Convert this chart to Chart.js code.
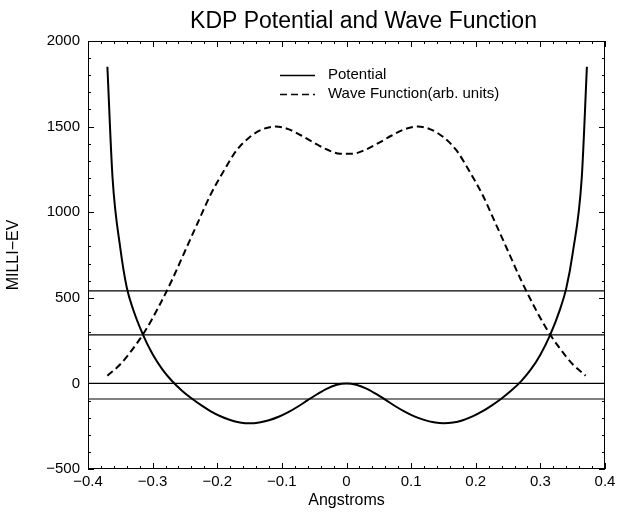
<!DOCTYPE html>
<html>
<head>
<meta charset="utf-8">
<script src="https://cdn.jsdelivr.net/npm/chart.js@4"></script>
<style>
  html, body { margin: 0; padding: 0; background: #fff; }
  #wrap { width: 629px; height: 513px; }
</style>
</head>
<body>
<div id="wrap"><canvas id="kdpChart"></canvas></div>
<script>
// Potential curve (milli-eV vs Angstroms)
const potX = [-0.37, -0.362, -0.35, -0.34, -0.33, -0.315, -0.30, -0.285, -0.27, -0.255, -0.24, -0.225, -0.21, -0.195, -0.18, -0.165, -0.15,
              -0.135, -0.12, -0.105, -0.09, -0.075, -0.06, -0.045, -0.03, -0.015, 0,
              0.015, 0.03, 0.045, 0.06, 0.075, 0.09, 0.105, 0.12, 0.135, 0.15, 0.165, 0.18, 0.195, 0.21, 0.225, 0.24, 0.255,
              0.27, 0.285, 0.30, 0.315, 0.33, 0.34, 0.35, 0.364, 0.372];
const potY = [1850, 1200, 790, 560, 430, 285, 170, 82, 14, -41, -87, -127, -163, -192, -214, -228, -233,
              -228, -215, -195, -168, -135, -98, -62, -30, -8, 0,
              -8, -29, -60, -95, -132, -165, -193, -213, -227, -233, -229, -215, -193, -164, -128, -88, -42,
              12, 80, 168, 282, 428, 555, 760, 1200, 1850];

// Wave function (arb. units)
const waveX = [-0.37, -0.35, -0.33, -0.31, -0.29, -0.27, -0.25, -0.23, -0.21, -0.19, -0.17, -0.15, -0.13, -0.11, -0.09, -0.07, -0.05, -0.03, -0.01,
               0.01, 0.03, 0.05, 0.07, 0.09, 0.11, 0.13, 0.15, 0.17, 0.19, 0.21, 0.23, 0.25, 0.27, 0.29, 0.31, 0.33, 0.35, 0.37];
const waveY = [45, 112, 205, 316, 452, 604, 772, 940, 1105, 1240, 1362, 1438, 1484, 1500, 1485, 1448, 1405, 1366, 1342,
               1342, 1366, 1405, 1448, 1485, 1500, 1484, 1438, 1362, 1240, 1105, 940, 772, 604, 452, 316, 205, 112, 45];

// Energy levels (horizontal lines)
const levels = [541, 284, 0, -91];

const xTickLabels = ['\u22120.4', '\u22120.3', '\u22120.2', '\u22120.1', '0', '0.1', '0.2', '0.3', '0.4'];
const yTickLabels = ['\u2212500', '0', '500', '1000', '1500', '2000'];

const FONT = "'Liberation Sans', Arial, Helvetica, sans-serif";

function pts(xs, ys) {
    return xs.map((x, i) => ({ x: x, y: ys[i] }));
}

const datasets = [
    {
        label: 'Potential',
        data: pts(potX, potY),
        borderColor: '#000',
        borderWidth: 2,
        pointRadius: 0,
        cubicInterpolationMode: 'monotone',
        showLine: true
    },
    {
        label: 'Wave Function(arb. units)',
        data: pts(waveX, waveY),
        borderColor: '#000',
        borderWidth: 2,
        borderDash: [7, 4],
        pointRadius: 0,
        cubicInterpolationMode: 'monotone',
        showLine: true
    }
];
levels.forEach(v => {
    datasets.push({
        label: 'level',
        data: [{ x: -0.4, y: v }, { x: 0.4, y: v }],
        borderColor: '#000',
        borderWidth: 1.2,
        pointRadius: 0,
        showLine: true
    });
});

// frame with inward major/minor ticks on all four sides
const frameTicks = {
    id: 'frameTicks',
    afterDatasetsDraw(chart) {
        const { ctx, chartArea: a, scales: { x, y } } = chart;
        ctx.save();
        ctx.strokeStyle = '#000';
        ctx.lineWidth = 1;
        ctx.strokeRect(a.left + 0.5, a.top + 0.5, a.right - a.left - 1, a.bottom - a.top - 1);
        ctx.beginPath();
        for (let i = 0; i <= 40; i++) {
            const px = Math.round(x.getPixelForValue(-0.4 + i * 0.02)) + 0.5;
            const len = i % 5 === 0 ? 6 : 3;
            ctx.moveTo(px, a.bottom); ctx.lineTo(px, a.bottom - len);
            ctx.moveTo(px, a.top); ctx.lineTo(px, a.top + len);
        }
        for (let i = 0; i <= 25; i++) {
            const py = Math.round(y.getPixelForValue(-500 + i * 100)) + 0.5;
            const len = i % 5 === 0 ? 6 : 3;
            ctx.moveTo(a.left, py); ctx.lineTo(a.left + len, py);
            ctx.moveTo(a.right, py); ctx.lineTo(a.right - len, py);
        }
        ctx.stroke();
        ctx.restore();
    }
};

// title and in-plot legend
const labelsPlugin = {
    id: 'labelsPlugin',
    afterDraw(chart) {
        const ctx = chart.ctx;
        ctx.save();
        ctx.fillStyle = '#000';
        ctx.font = '23px ' + FONT;
        ctx.textAlign = 'center';
        ctx.textBaseline = 'alphabetic';
        ctx.fillText('KDP Potential and Wave Function', 363.5, 28);

        const rows = [chart.data.datasets[0], chart.data.datasets[1]];
        const rowY = [75, 94];
        ctx.font = '15px ' + FONT;
        ctx.textAlign = 'left';
        ctx.textBaseline = 'middle';
        rows.forEach((ds, i) => {
            ctx.beginPath();
            ctx.setLineDash(ds.borderDash || []);
            ctx.lineWidth = 1.5;
            ctx.strokeStyle = '#000';
            ctx.moveTo(280, rowY[i] + 0.5);
            ctx.lineTo(315, rowY[i] + 0.5);
            ctx.stroke();
            ctx.setLineDash([]);
            ctx.fillText(ds.label, 328, rowY[i]);
        });
        ctx.restore();
    }
};

new Chart(document.getElementById('kdpChart'), {
    type: 'scatter',
    data: { datasets: datasets },
    options: {
        responsive: true,
        maintainAspectRatio: false,
        animation: false,
        layout: { padding: { top: 41, right: 24, left: 0, bottom: 0 } },
        plugins: {
            legend: { display: false },
            title: { display: false },
            tooltip: { enabled: false }
        },
        scales: {
            x: {
                type: 'linear',
                min: -0.4,
                max: 0.4,
                grid: { display: false, drawTicks: false },
                border: { display: false },
                ticks: {
                    stepSize: 0.1,
                    autoSkip: false,
                    maxRotation: 0,
                    padding: 4,
                    color: '#000',
                    font: { family: FONT, size: 15 },
                    callback: (v, i) => xTickLabels[i]
                },
                title: {
                    display: true,
                    text: 'Angstroms',
                    color: '#000',
                    font: { family: FONT, size: 16 },
                    padding: { top: 0, bottom: 3 }
                },
                afterFit: s => { s.height = 44; }
            },
            y: {
                type: 'linear',
                min: -500,
                max: 2000,
                grid: { display: false, drawTicks: false },
                border: { display: false },
                ticks: {
                    stepSize: 500,
                    padding: 8,
                    color: '#000',
                    font: { family: FONT, size: 15 },
                    callback: (v, i) => yTickLabels[i]
                },
                title: {
                    display: true,
                    text: 'MILLI\u2212EV',
                    color: '#000',
                    font: { family: FONT, size: 16 },
                    padding: { top: 4, bottom: 0 }
                },
                afterFit: s => { s.width = 88; }
            }
        }
    },
    plugins: [frameTicks, labelsPlugin]
});
</script>
</body>
</html>
